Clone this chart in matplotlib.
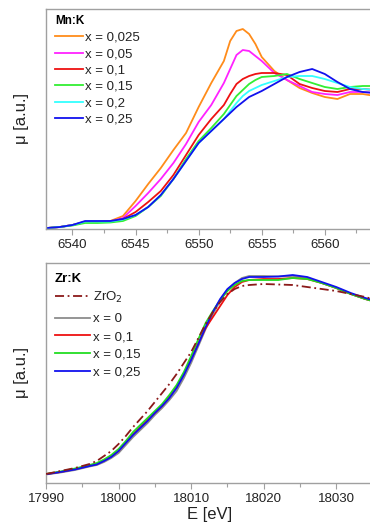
import matplotlib
matplotlib.use("Agg")
import matplotlib.pyplot as plt
from matplotlib.ticker import MultipleLocator

plt.rcParams['font.family'] = ['Liberation Sans', 'DejaVu Sans']

# ---------------- Mn K-edge data ----------------
E_mn = [6538, 6539, 6540, 6541, 6542, 6543, 6544, 6545, 6546, 6547, 6548, 6549,
        6550, 6551, 6552, 6552.5, 6553, 6553.5, 6554, 6554.5, 6555, 6556, 6557,
        6558, 6559, 6560, 6561, 6562, 6563, 6564]
mn_x0025 = [1, 2, 4, 7, 7, 8, 13, 28, 45, 61, 79, 96, 122, 146, 168, 188, 198, 200,
            195, 185, 172, 158, 149, 141, 136, 132, 130, 135, 135, 133]
mn_x005 = [1, 2, 4, 7, 7, 7.5, 11, 23, 36, 50, 66, 85, 107, 124, 146, 160, 174, 179,
           178, 173, 168, 156, 149, 143, 137, 135, 134, 137, 137, 136]
mn_x01 = [1, 2, 4, 7, 7, 7.5, 10, 17, 27, 38, 54, 74, 94, 110, 124, 135, 145, 150,
          153, 155, 156, 156, 154, 145, 141, 138, 137, 140, 140, 139]
mn_x015 = [1, 2, 3.5, 6, 6, 6.5, 8, 13, 22, 33, 50, 70, 88, 101, 115, 124, 133, 139,
           145, 149, 152, 153, 155, 150, 146, 142, 140, 142, 143, 143]
mn_x02 = [1, 2, 4, 7.5, 7.5, 7.5, 9.5, 14, 22, 34, 50, 68, 86, 98, 110, 118, 126, 133,
          138, 141, 144, 148, 152, 153, 153, 150, 146, 142, 140, 139]
mn_x025 = [1, 2, 4, 8, 8, 8, 10, 14, 22, 34, 50, 68, 86, 98, 110, 116, 122, 127,
           132, 135, 138, 145, 152, 157, 160, 155, 147, 140, 137, 136]

mn_labels = ["x = 0,025", "x = 0,05", "x = 0,1", "x = 0,15", "x = 0,2", "x = 0,25"]

# ---------------- Zr K-edge data ----------------
E_zr = [17990, 17992, 17994, 17996, 17997, 17998, 17999, 18000, 18001, 18002, 18003,
        18004, 18005, 18006, 18007, 18008, 18009, 18010, 18011, 18012, 18013, 18014,
        18015, 18016, 18017, 18018, 18020, 18022, 18024, 18026, 18028, 18030, 18032,
        18034, 18035]
zr_zro2 = [9, 12, 15, 19, 22, 27, 32, 39, 47, 56, 64, 72, 81, 90, 99, 109, 120, 131,
           145, 159, 171, 181, 189, 194, 197, 198, 199, 198.5, 198, 196, 194, 192,
           189, 186, 184]
zr_x0 = [8.5, 10.5, 13, 16.5, 18, 21, 25, 30, 38, 46, 53, 60, 68, 75, 83, 92, 105, 120,
         137, 154, 169, 182, 193, 200, 205, 207, 207, 206.5, 207, 205, 200, 195, 189,
         184, 182]
zr_x01 = [9, 11, 14, 17.5, 19, 22.5, 27, 32, 41, 49, 56, 63, 70, 77, 86, 96, 109, 124,
          140, 155, 166, 177, 188, 196, 201, 203, 204, 204, 205, 204, 200, 195, 189,
          184, 182]
zr_x015 = [9, 11.5, 14.5, 18, 20, 23.5, 28, 34, 42, 51, 58, 65, 72, 79, 88, 98, 111,
           127, 144, 160, 172, 183, 192, 198, 202, 203, 203, 203, 205, 204, 200, 195,
           189, 184, 182]
zr_x025 = [8.7, 11, 13.5, 17, 18.5, 22, 26, 32, 40, 48, 55, 62, 70, 77, 85, 95, 108,
           123, 139, 156, 171, 184, 194, 200, 204, 206, 206, 206.5, 208, 206, 201, 196,
           190, 185, 183]

zr_labels = ["ZrO$_2$", "x = 0", "x = 0,1", "x = 0,15", "x = 0,25"]

W, H = 370, 525
fig = plt.figure(figsize=(W / 100, H / 100), dpi=100)

AX_W = 328
ax1 = fig.add_axes([46 / W, 1 - 229 / H, AX_W / W, 220 / H])
ax2 = fig.add_axes([46 / W, 1 - 483 / H, AX_W / W, 220 / H])

lw = 1.3
mn_series = [mn_x0025, mn_x005, mn_x01, mn_x015, mn_x02, mn_x025]
mn_colors = ["#FF8C1A", "#FF22FF", "#EE1111", "#33EE33", "#33FFFF", "#1111EE"]
for ys, c, lab in zip(mn_series, mn_colors, mn_labels):
    ax1.plot(E_mn, ys, color=c, lw=lw, label=lab)

zr_series = [zr_x0, zr_x01, zr_x015, zr_x025]
zr_colors = ["#8C8C8C", "#EE1111", "#22DD22", "#1111EE"]
zro2_line, = ax2.plot(E_zr, zr_zro2, color="#8B1A1A", lw=lw, ls=(0, (5, 2, 1, 2)),
                      label=zr_labels[0], zorder=3)
zr_lines = []
for ys, c, lab in zip(zr_series, zr_colors, zr_labels[1:]):
    ln, = ax2.plot(E_zr, ys, color=c, lw=lw, label=lab)
    zr_lines.append(ln)

ax1.set_xlim(6537.9, 6563.9)
ax1.set_ylim(0, 220)
ax2.set_xlim(17990, 18035.2)
ax2.set_ylim(0, 220)

for ax, major, minor in [(ax1, 5, 2.5), (ax2, 10, 5)]:
    ax.xaxis.set_major_locator(MultipleLocator(major))
    ax.xaxis.set_minor_locator(MultipleLocator(minor))
    ax.set_yticks([])
    for s in ax.spines.values():
        s.set_color("#A0A0A0")
        s.set_linewidth(1.0)
    ax.spines['right'].set_visible(False)
    ax.tick_params(axis='x', which='major', direction='out', length=4, width=0.8,
                   color="#A0A0A0", labelsize=9.5, pad=3, labelcolor="#222222")
    ax.tick_params(axis='x', which='minor', direction='out', length=3, width=0.8,
                   color="#A0A0A0")
    ax.set_ylabel("μ [a.u.]", fontsize=12, color="#222222", labelpad=12)

ax2.set_xlabel("E [eV]", fontsize=12, color="#222222", labelpad=1.5)


def ax_y(ax_top_px, py):
    return 1 - (py - ax_top_px) / 220


x_anchor = (55 - 46) / AX_W
common = dict(loc="upper left", frameon=False, fontsize=9.5, borderpad=0,
              borderaxespad=0, alignment='left')

leg1 = ax1.legend(bbox_to_anchor=(x_anchor, ax_y(9, 15.5)), handlelength=2.1,
                  handletextpad=0.2, labelspacing=0.31, title="Mn:K",
                  title_fontproperties={'weight': 'bold', 'size': 8.5}, **common)

leg2a = ax2.legend([zro2_line], [zr_labels[0]], bbox_to_anchor=(x_anchor, ax_y(263, 272.5)),
                   handlelength=2.65, handletextpad=0.2, labelspacing=0.42, title="Zr:K",
                   title_fontproperties={'weight': 'bold', 'size': 9.5}, **common)
ax2.add_artist(leg2a)
leg2b = ax2.legend(zr_lines, zr_labels[1:], bbox_to_anchor=(x_anchor, ax_y(263, 313)),
                   handlelength=2.65, handletextpad=0.2, labelspacing=0.42, **common)

for lg in (leg1, leg2a, leg2b):
    for t in lg.get_texts():
        t.set_color("#222222")

fig.savefig("out.png", dpi=100)
